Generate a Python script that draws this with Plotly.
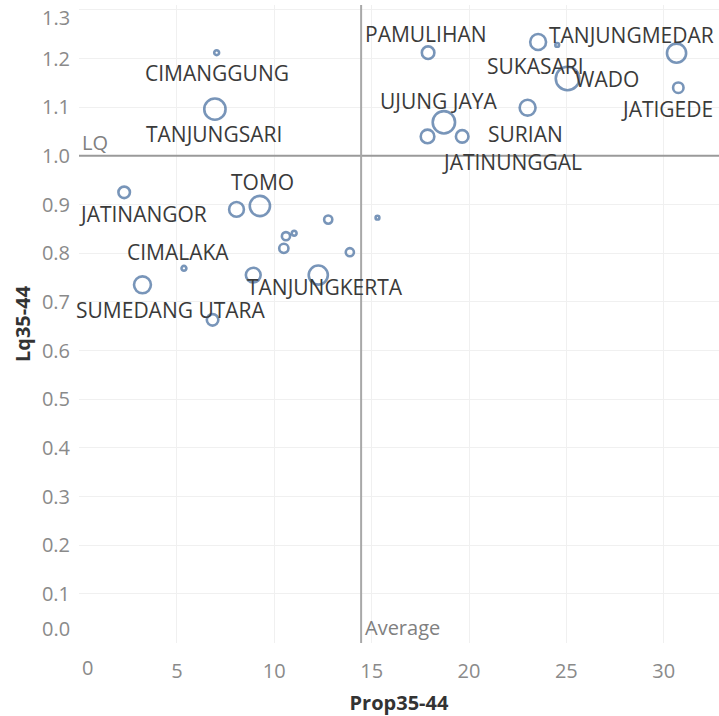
import numpy as np
import plotly.graph_objects as go

# kecamatan labels (blank = not labelled in the chart)
kecamatan = ['CIMANGGUNG', 'TANJUNGSARI', 'JATINANGOR', '', 'TOMO', '', '', '',
             '', '', '', 'CIMALAKA', 'SUMEDANG UTARA', '', 'TANJUNGKERTA', '',
             'PAMULIHAN', 'SUKASARI', '', 'TANJUNGMEDAR', 'WADO', 'JATIGEDE',
             'SURIAN', 'UJUNG JAYA', '', 'JATINUNGGAL']
prop35_44 = [7.04, 6.95, 2.29, 8.06, 9.26, 10.60, 11.02, 12.77,
             15.30, 10.49, 13.88, 5.36, 3.23, 8.92, 12.26, 6.83,
             17.90, 23.55, 24.53, 30.66, 25.06, 30.75,
             23.01, 18.71, 17.87, 19.65]
lq35_44 = [1.212, 1.096, 0.925, 0.890, 0.897, 0.835, 0.841, 0.869,
           0.873, 0.810, 0.802, 0.769, 0.735, 0.755, 0.755, 0.663,
           1.212, 1.234, 1.228, 1.211, 1.159, 1.140,
           1.099, 1.069, 1.040, 1.040]
bobot = [25, 475, 140, 230, 430, 70, 25, 70,
         15, 90, 70, 25, 300, 230, 385, 140,
         165, 265, 15, 385, 580, 115,
         265, 525, 195, 165]
y_ticks = [0.0, 0.1, 0.2, 0.3, 0.4, 0.5, 0.6, 0.7, 0.8, 0.9, 1.0, 1.1, 1.2, 1.3]
x_ticks = [0, 5, 10, 15, 20, 25, 30]

# label offsets in px (dx, dy) relative to the mark
label_offset = {
    'CIMANGGUNG': (0, -20), 'TANJUNGSARI': (-1, -25), 'JATINANGOR': (19, -22),
    'TOMO': (3, 24), 'CIMALAKA': (-6, 16), 'SUMEDANG UTARA': (29, -25),
    'TANJUNGKERTA': (7, -12), 'PAMULIHAN': (-2, 19), 'TANJUNGMEDAR': (-45, 18),
    'SUKASARI': (-3, -24), 'WADO': (39, -1), 'JATIGEDE': (-11, -21),
    'UJUNG JAYA': (-5, 21), 'SURIAN': (-2, -26), 'JATINUNGGAL': (50, -26),
}

avg_prop = float(np.mean(prop35_44))
FONT = "Open Sans"
TICK_GREY = '#8a8a8a'

# first/last tick labels are nudged inwards (as Tableau does), so draw them apart
y_text = ['' if v in (y_ticks[0], y_ticks[-1]) else f'{v:.1f}' for v in y_ticks]
x_text = ['' if v == x_ticks[0] else str(v) for v in x_ticks]

fig = go.Figure()
fig.add_trace(go.Scatter(
    x=prop35_44, y=lq35_44, mode='markers',
    marker=dict(size=bobot, sizemode='area', sizeref=2.1,
                color='rgba(255,255,255,0)',
                line=dict(color='#40699c', width=2.6)),
    text=kecamatan, hoverinfo='text+x+y', showlegend=False,
))

for name, xv, yv in zip(kecamatan, prop35_44, lq35_44):
    if not name:
        continue
    dx, dy = label_offset[name]
    fig.add_annotation(x=xv, y=yv, text=name, showarrow=False,
                       xshift=dx, yshift=dy,
                       font=dict(family=FONT, size=21, color='#3a3a3a'))

# edge tick labels
fig.add_annotation(xref='paper', x=0, y=y_ticks[-1], text=f'{y_ticks[-1]:.1f}',
                   showarrow=False, xanchor='right', xshift=-7, yshift=-8,
                   font=dict(family=FONT, size=20, color=TICK_GREY))
fig.add_annotation(xref='paper', x=0, y=y_ticks[0], text=f'{y_ticks[0]:.1f}',
                   showarrow=False, xanchor='right', xshift=-7, yshift=14,
                   font=dict(family=FONT, size=20, color=TICK_GREY))
fig.add_annotation(yref='paper', y=0, x=x_ticks[0], text=str(x_ticks[0]),
                   showarrow=False, yanchor='top', xshift=8, yshift=-9,
                   font=dict(family=FONT, size=20, color=TICK_GREY))

# reference lines
fig.add_shape(type='line', xref='paper', x0=0, x1=1, y0=1.0, y1=1.0,
              line=dict(color='#9a9a9a', width=2))
fig.add_shape(type='line', yref='paper', y0=0, y1=1, x0=avg_prop, x1=avg_prop,
              line=dict(color='#a8a8a8', width=2))
fig.add_annotation(xref='paper', x=0, y=1.0, text='LQ', showarrow=False,
                   xanchor='left', yanchor='bottom', xshift=1, yshift=-2,
                   font=dict(family=FONT, size=20, color='#808080'))
fig.add_annotation(yref='paper', y=0, x=avg_prop, text='Average', showarrow=False,
                   xanchor='left', yanchor='bottom', xshift=2, yshift=0,
                   font=dict(family=FONT, size=20, color='#808080'))

fig.update_layout(
    width=719, height=716,
    margin=dict(l=79, r=0, t=5, b=73),
    plot_bgcolor='white', paper_bgcolor='white',
    font=dict(family=FONT, size=20, color=TICK_GREY),
    xaxis=dict(range=[-0.03, 32.84], tickvals=x_ticks, ticktext=x_text,
               showgrid=True, gridcolor='#f0f0f0', gridwidth=1,
               zeroline=False, showline=False, automargin=False,
               ticks='outside', ticklen=10, tickcolor='rgba(0,0,0,0)',
               tickfont=dict(size=20, color=TICK_GREY),
               title=dict(text='<b>Prop35-44</b>', standoff=14,
                          font=dict(size=20, color='#333333'))),
    yaxis=dict(range=[-0.001, 1.31], tickvals=y_ticks, ticktext=y_text,
               showgrid=True, gridcolor='#f0f0f0', gridwidth=1,
               zeroline=False, showline=False, automargin=False,
               ticks='outside', ticklen=4, tickcolor='rgba(0,0,0,0)',
               tickfont=dict(size=20, color=TICK_GREY),
               title=dict(text='<b>Lq35-44</b>', standoff=5,
                          font=dict(size=20, color='#333333'))),
)

fig.write_html("out.html", config={'displayModeBar': False},
               post_script="document.body.style.margin='0px';")
